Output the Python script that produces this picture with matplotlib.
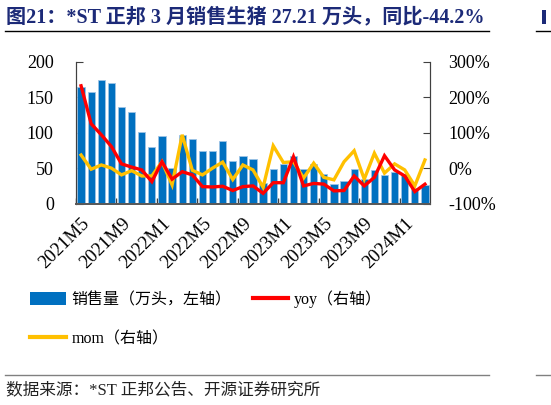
import matplotlib
matplotlib.use("Agg")
import matplotlib.pyplot as plt
from matplotlib.patches import Patch, Rectangle
from matplotlib.lines import Line2D
import numpy as np

plt.rcParams['font.family'] = ['Liberation Serif', 'Noto Sans CJK SC', 'DejaVu Sans']

months = ["2021M5", "2021M6", "2021M7", "2021M8", "2021M9", "2021M10", "2021M11", "2021M12",
          "2022M1", "2022M2", "2022M3", "2022M4", "2022M5", "2022M6", "2022M7", "2022M8",
          "2022M9", "2022M10", "2022M11", "2022M12", "2023M1", "2023M2", "2023M3", "2023M4",
          "2023M5", "2023M6", "2023M7", "2023M8", "2023M9", "2023M10", "2023M11", "2023M12",
          "2024M1", "2024M2", "2024M3"]
sales = [165, 158, 175, 171, 137, 129, 101, 80,
         96, 50, 97, 92, 75, 75, 89, 61,
         68, 64, 29, 49, 56, 68, 49, 56,
         42, 28, 33, 49, 35, 48, 41, 45,
         42, 22, 27.21]
yoy = [233, 126, 95, 62, 13, 4, -4, -37,
       19, -30, -9, -18, -51, -52, -50, -62,
       -51, -49, -70, -40, -40, 33, -49, -42,
       -44, -63, -62, -21, -49, -25, 36, -4,
       -21, -65, -44.2]
mom = [38, -2, 10, 1, -18, -6, -21, -21,
       19, -46, 95, -5, -18, 1, 18, -31,
       10, -4, -53, 64, 17, 19, -27, 15,
       -25, -32, 19, 50, -30, 43, -13, 13,
       -4, -49, 24]
label_every = 4

BLUE = '#0070C0'
RED = '#FF0000'
YELLOW = '#FFC000'
NAVY = '#1C2A78'

W, H = 551, 405
fig = plt.figure(figsize=(W / 100, H / 100), dpi=100)
ax = fig.add_axes([76 / W, 1 - 204 / H, (430 - 76) / W, (204 - 62) / H])
ax2 = ax.twinx()

x = np.arange(len(months))
ax.bar(x, sales, width=0.72, color=BLUE, edgecolor='#9DC3E6', linewidth=0.6, zorder=2)
ax.set_xlim(-0.5, len(months) - 0.5)
ax.set_ylim(0, 200)
ax.set_yticks([0, 50, 100, 150, 200])
ax2.set_ylim(-100, 300)
ax2.set_yticks([-100, 0, 100, 200, 300])
ax2.set_yticklabels([f"{v}%" for v in [-100, 0, 100, 200, 300]])

ax2.plot(x, yoy, color=RED, lw=2.4, zorder=4, solid_joinstyle='miter')
ax2.plot(x, mom, color=YELLOW, lw=2.4, zorder=3, solid_joinstyle='miter')

ax.set_xticks(x[::label_every])
ax.set_xticklabels(months[::label_every], rotation=45, ha='right', rotation_mode='anchor')
ax.set_xticks(np.arange(-0.5, len(months), label_every), minor=True)
ax.tick_params(axis='x', which='major', length=0, labelsize=13.5, pad=8)
ax.tick_params(axis='x', which='minor', length=4, direction='in', color='#404040', width=1)
ax.tick_params(axis='y', direction='in', length=5, labelsize=13, pad=16, color='#404040')
ax2.tick_params(axis='y', direction='in', length=5, labelsize=13, pad=13, color='#404040')

for a in (ax, ax2):
    a.spines['top'].set_visible(False)
    a.spines['left'].set_color('#404040')
    a.spines['right'].set_color('#404040')
    a.spines['bottom'].set_color('#595959')
    a.spines['bottom'].set_linewidth(1.3)
    a.patch.set_visible(False)

# Title
fig.text(6 / W, 1 - 17 / H, "图21：*ST 正邦 3 月销售生猪 27.21 万头，同比-44.2%",
         fontsize=14.5, fontweight='bold', color=NAVY, va='center', ha='left')
fig.add_artist(Line2D([5 / W, 489 / W], [1 - 31 / H, 1 - 31 / H], color='black', lw=1.0))
# neighbouring panel fragments on right edge
fig.add_artist(Rectangle((542 / W, 1 - 24 / H), 4 / W, 14 / H, color=NAVY, lw=0))
fig.add_artist(Line2D([536 / W, 1], [1 - 31 / H, 1 - 31 / H], color='black', lw=1.0))

# Legend
handles = [Patch(facecolor=BLUE, edgecolor='none'),
           Line2D([], [], color=YELLOW, lw=3),
           Line2D([], [], color=RED, lw=3)]
labels = ["销售量（万头，左轴）", "mom（右轴）", "yoy（右轴）"]
fig.legend(handles, labels, loc='upper left', bbox_to_anchor=(16 / W, 1 - 276 / H), ncol=2,
           frameon=False, fontsize=11.5, handlelength=2.2, handleheight=0.8,
           handletextpad=0.4, labelspacing=1.45, columnspacing=1.3)

# Source
fig.add_artist(Line2D([5 / W, 489 / W], [1 - 375 / H, 1 - 375 / H], color='#808080', lw=1.0))
fig.add_artist(Line2D([536 / W, 1], [1 - 375 / H, 1 - 375 / H], color='#808080', lw=1.0))
fig.text(6 / W, 1 - 390 / H, "数据来源：*ST 正邦公告、开源证券研究所", fontsize=12,
         color='#222222', va='center', ha='left')

fig.savefig("out.png", dpi=100)
